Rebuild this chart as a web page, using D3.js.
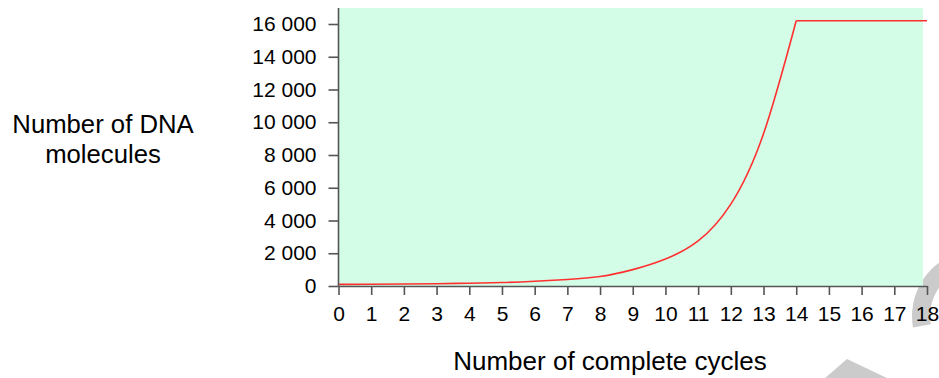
<!DOCTYPE html>
<html>
<head>
<meta charset="utf-8">
<script src="https://cdn.jsdelivr.net/npm/d3@7"></script>
<style>
  html, body { margin: 0; padding: 0; background: #ffffff; }
  svg { display: block; }
  text { font-family: "Liberation Sans", Arial, sans-serif; fill: #000; }
</style>
</head>
<body>
<svg id="chart" width="939" height="378"></svg>
<script>
// ---- data ----
const cycles = [0, 1, 2, 3, 4, 5, 6, 7, 8, 9, 10, 11, 12, 13, 14, 15, 16, 17, 18];
const molecules = [100, 105, 120, 140, 170, 210, 290, 400, 580, 1000, 1650, 2750, 5000, 9300, 16200, 16200, 16200, 16200, 16200];
const peakIndex = 14; // curve rises up to here, then flat
const xTicks = [0, 1, 2, 3, 4, 5, 6, 7, 8, 9, 10, 11, 12, 13, 14, 15, 16, 17, 18];
const yTicks = [0, 2000, 4000, 6000, 8000, 10000, 12000, 14000, 16000];
const yLabelLines = ["Number of DNA", "molecules"];
const xLabel = "Number of complete cycles";

// ---- layout ----
const svg = d3.select("#chart");
const x = d3.scaleLinear().domain([0, 18]).range([338.5, 927]);
const y = d3.scaleLinear().domain([0, 16000]).range([286, 24]);
const yTop = 8;       // top of plotting area (px)
const plotRight = 923;

const fmt = d3.formatLocale({ decimal: ".", thousands: " ", grouping: [3], currency: ["", ""] }).format(",d");

// watermark fragments (decorative, bottom-right)
const wm = svg.append("g").attr("fill", "#cbcbcb");
wm.append("path")
  .attr("transform", "translate(978,316)")
  .attr("d", d3.arc()({ innerRadius: 48, outerRadius: 66, startAngle: 260 * Math.PI / 180, endAngle: 370 * Math.PI / 180 }));
wm.append("path").attr("d", "M824,379 L847,359 L889,379 Z");

// background
svg.append("rect")
  .attr("x", x(0))
  .attr("y", yTop)
  .attr("width", plotRight - x(0))
  .attr("height", y(0) - yTop)
  .attr("fill", "#d4fde7");

// curve
const rising = cycles.slice(0, peakIndex + 1).map((c, i) => [c, molecules[i]]);
const flat = cycles.slice(peakIndex).map((c, i) => [c, molecules[i + peakIndex]]);
svg.append("path")
  .attr("d", d3.line().x(d => x(d[0])).y(d => y(d[1])).curve(d3.curveNatural)(rising))
  .attr("fill", "none").attr("stroke", "#ff3030").attr("stroke-width", 1.6);
svg.append("path")
  .attr("d", d3.line().x(d => x(d[0])).y(d => y(d[1]))(flat))
  .attr("fill", "none").attr("stroke", "#ff3030").attr("stroke-width", 1.6);

// axes
const axisColor = "#555";
const yAxis = svg.append("g")
  .attr("transform", `translate(${x(0)},0)`)
  .call(d3.axisLeft(y).tickValues(yTicks).tickFormat(fmt).tickSize(10).tickPadding(12).tickSizeOuter(0));
yAxis.select(".domain").remove();
yAxis.append("line").attr("x1", 0).attr("x2", 0).attr("y1", yTop).attr("y2", y(0))
  .attr("stroke", axisColor).attr("stroke-width", 1.6);
yAxis.selectAll(".tick line").attr("stroke", axisColor).attr("stroke-width", 1.6);
yAxis.selectAll(".tick text").style("font-size", "21px").attr("fill", "#000");

const xAxis = svg.append("g")
  .attr("transform", `translate(0,${y(0)})`)
  .call(d3.axisBottom(x).tickValues(xTicks).tickFormat(d3.format("d")).tickSize(9).tickPadding(11).tickSizeOuter(0));
xAxis.select(".domain").attr("stroke", axisColor).attr("stroke-width", 1.6);
xAxis.selectAll(".tick line").attr("stroke", axisColor).attr("stroke-width", 1.6);
xAxis.selectAll(".tick text").style("font-size", "21px").attr("fill", "#000");

// axis titles
const yl = svg.append("text")
  .attr("text-anchor", "middle")
  .style("font-size", "25.7px");
yLabelLines.forEach((t, i) => {
  yl.append("tspan").attr("x", 103).attr("y", 133 + i * 30).text(t);
});
svg.append("text")
  .attr("x", 610).attr("y", 370)
  .attr("text-anchor", "middle")
  .style("font-size", "26px")
  .text(xLabel);
</script>
</body>
</html>
